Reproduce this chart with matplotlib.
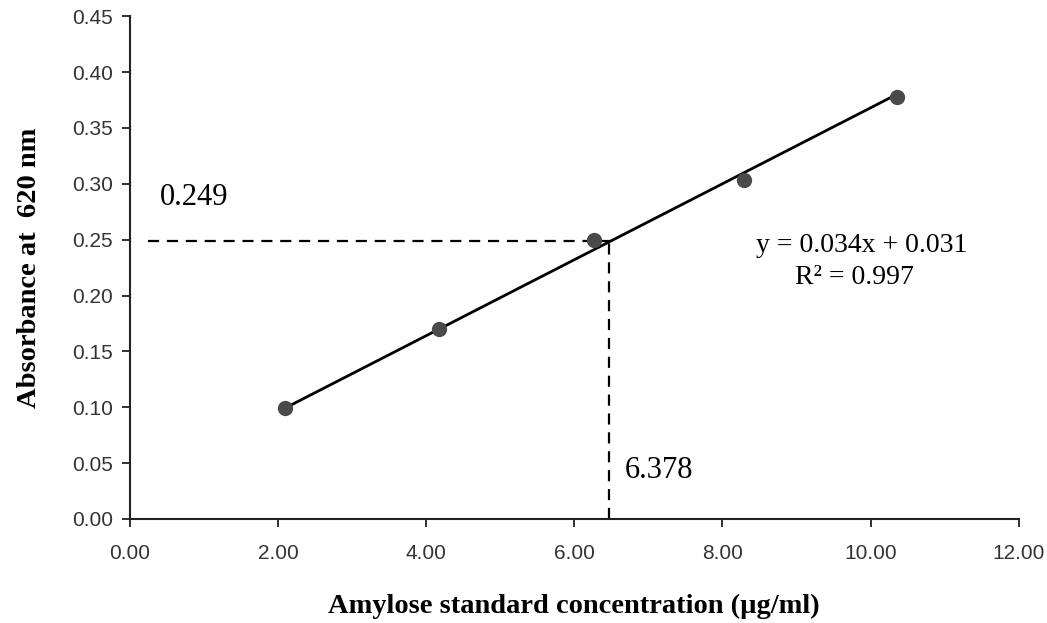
import numpy as np
import matplotlib
matplotlib.use("Agg")
import matplotlib.pyplot as plt

# Data
conc = [2.09, 4.18, 6.26, 8.29, 10.36]
absorb = [0.0995, 0.170, 0.250, 0.303, 0.378]
slope, intercept = 0.034, 0.031
sample_abs = 0.249
sample_conc_label = "6.378"
sample_conc_drawn = 6.47
x_ticks = [0, 2, 4, 6, 8, 10, 12]
y_ticks = [0.00, 0.05, 0.10, 0.15, 0.20, 0.25, 0.30, 0.35, 0.40, 0.45]

fig = plt.figure(figsize=(10.47, 6.23), dpi=100)
ax = fig.add_axes([0.124, 0.167, 0.849, 0.807])

# fit line across data range
xf = np.array([conc[0], conc[-1]])
ax.plot(xf, slope * xf + intercept - 0.003, color="black", lw=2, zorder=2)
ax.plot(conc, absorb, "o", color="#4a4a4a", markersize=10, zorder=3)

# dashed guides
ax.plot([0.24, sample_conc_drawn + 0.06], [sample_abs, sample_abs], color="black",
        lw=1.6, dashes=(5, 3.5), zorder=1)
ax.plot([sample_conc_drawn, sample_conc_drawn], [0, sample_abs], color="black",
        lw=1.6, dashes=(5, 3.5), zorder=1)

ax.set_xlim(0, 12)
ax.set_ylim(0, 0.45)
ax.set_xticks(x_ticks)
ax.set_xticklabels([f"{v:.2f}" for v in x_ticks])
ax.set_yticks(y_ticks)
ax.set_yticklabels([f"{v:.2f}" for v in y_ticks])

for s in ["top", "right"]:
    ax.spines[s].set_visible(False)
for s in ["left", "bottom"]:
    ax.spines[s].set_linewidth(1.5)
    ax.spines[s].set_color("#222222")

ax.tick_params(axis="both", direction="out", length=6, width=1.3, color="#222222",
               labelsize=15, labelcolor="#333333", pad=6)
for lab in ax.get_xticklabels() + ax.get_yticklabels():
    lab.set_fontfamily("Liberation Sans")
ax.tick_params(axis="x", pad=12)

ax.set_xlabel("Amylose standard concentration (µg/ml)", fontfamily="Liberation Serif",
              fontweight="bold", fontsize=20.5, labelpad=22)
ax.set_ylabel("Absorbance at  620 nm", fontfamily="Liberation Serif",
              fontweight="bold", fontsize=20.5, labelpad=22)

ax.text(0.4, 0.288, "0.249", fontfamily="Liberation Serif", fontsize=22,
        ha="left", va="center")
ax.text(6.68, 0.043, sample_conc_label, fontfamily="Liberation Serif", fontsize=22,
        ha="left", va="center")
ax.text(9.88, 0.245, "y = 0.034x + 0.031", fontfamily="Liberation Serif", fontsize=20,
        ha="center", va="center")
ax.text(9.78, 0.216, "R² = 0.997", fontfamily="Liberation Serif", fontsize=20,
        ha="center", va="center")

fig.savefig("out.png", dpi=100)
